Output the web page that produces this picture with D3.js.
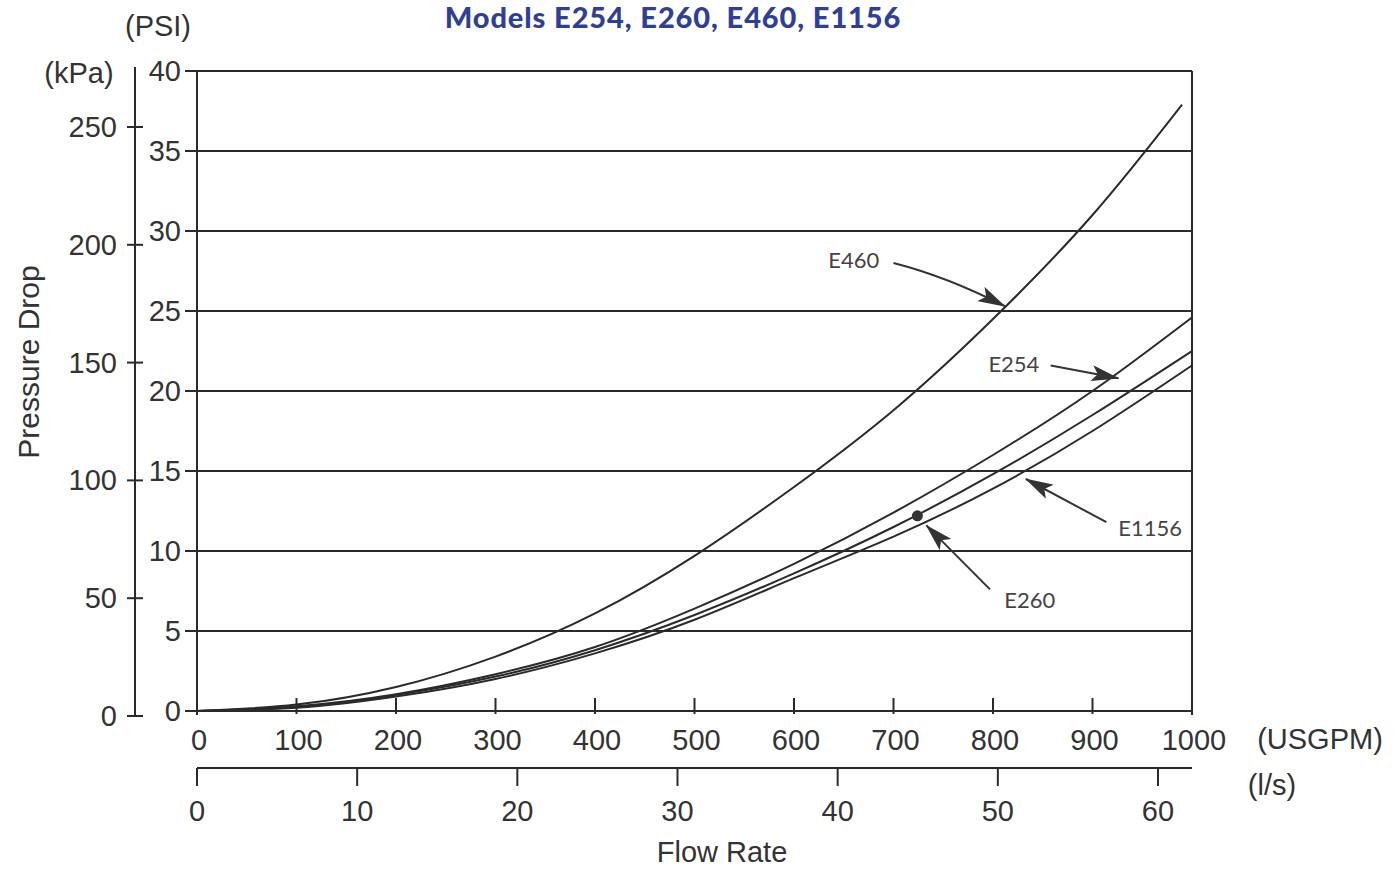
<!DOCTYPE html>
<html>
<head>
<meta charset="utf-8">
<script src="https://cdn.jsdelivr.net/npm/d3@7"></script>
<style>
  html, body { margin: 0; padding: 0; background: #fff; }
  svg text { font-family: 'Liberation Sans', Arial, sans-serif; fill: #333; }
  .title { font-family: Lato, 'Noto Sans', sans-serif; font-weight: 900; fill: #2f3f96; }
  .model { font-family: Lato, 'Noto Sans', sans-serif; fill: #444; }
</style>
</head>
<body>
<div id="chart"></div>
<script>
// flow in USGPM, pressure drop in PSI
const flow = [0, 100, 200, 300, 400, 500, 600, 700, 800, 900, 1000];
const e460 = [0, 0.4, 1.5, 3.4, 6.1, 9.7, 14.0, 18.8, 24.5, 31.0, 37.9];
const e254 = [0, 0.3, 1.05, 2.3, 4.0, 6.4, 9.2, 12.4, 16.0, 20.0, 24.6];
const e260 = [0, 0.25, 1.0, 2.15, 3.8, 6.0, 8.6, 11.5, 14.8, 18.5, 22.5];
const e1156 = [0, 0.2, 0.9, 2.0, 3.6, 5.7, 8.3, 10.9, 13.9, 17.5, 21.6];
// E460 stops short of the right edge
const e460End = 990;

const gpmTicks = [0, 100, 200, 300, 400, 500, 600, 700, 800, 900, 1000];
const lsTicks = [0, 10, 20, 30, 40, 50, 60];
const psiTicks = [0, 5, 10, 15, 20, 25, 30, 35, 40];
const kpaTicks = [0, 50, 100, 150, 200, 250];

// labels: [name, text gpm, text psi, arrow start gpm, psi, arrow tip gpm, psi]
const callouts = [
  ['E460', 660, 28.2, 700, 28.0, 812, 25.3],
  ['E254', 821, 21.7, 858, 21.6, 926, 20.8],
  ['E1156', 958, 11.45, 914, 11.8, 833, 14.5],
  ['E260', 837, 6.95, 797, 7.6, 733, 11.6]
];
const dot = [724, 12.2];

const width = 1394;
const height = 869;

const svg = d3.select('#chart')
  .append('svg')
  .attr('width', width)
  .attr('height', height);

const x = d3.scaleLinear().domain([0, 1000]).range([197, 1192]);
const y = d3.scaleLinear().domain([0, 40]).range([711, 71]);
const xLs = d3.scaleLinear().domain([0, 60]).range([197, 1158]);
const yKpa = d3.scaleLinear().domain([0, 250]).range([716, 127]);

const ink = '#2a2a2a';
const fontSize = 29;

svg.append('defs').append('marker')
  .attr('id', 'head')
  .attr('viewBox', '0 0 28 16')
  .attr('refX', 27)
  .attr('refY', 8)
  .attr('markerWidth', 28)
  .attr('markerHeight', 16)
  .attr('markerUnits', 'userSpaceOnUse')
  .attr('orient', 'auto')
  .append('path')
  .attr('d', 'M0,0 L28,8 L0,16 L6,8 Z')
  .attr('fill', '#333');

// title
svg.append('text')
  .attr('class', 'title')
  .attr('x', 673)
  .attr('y', 28)
  .attr('text-anchor', 'middle')
  .style('font-size', '29px')
  .style('letter-spacing', '0.9px')
  .text('Models E254, E260, E460, E1156');

// psi grid lines + ticks
const grid = svg.append('g');
grid.selectAll('line')
  .data(psiTicks)
  .enter()
  .append('line')
  .attr('x1', 185)
  .attr('x2', x(1000))
  .attr('y1', d => y(d))
  .attr('y2', d => y(d))
  .attr('stroke', ink)
  .attr('stroke-width', 2);

grid.selectAll('text')
  .data(psiTicks)
  .enter()
  .append('text')
  .attr('x', 181)
  .attr('y', d => y(d) + 10)
  .attr('text-anchor', 'end')
  .style('font-size', fontSize + 'px')
  .text(d => d);

// plot frame left and right
svg.append('line')
  .attr('x1', x(0)).attr('x2', x(0))
  .attr('y1', y(40)).attr('y2', y(0) + 4)
  .attr('stroke', ink).attr('stroke-width', 2);
svg.append('line')
  .attr('x1', x(1000)).attr('x2', x(1000))
  .attr('y1', y(40)).attr('y2', y(0) + 4)
  .attr('stroke', ink).attr('stroke-width', 2);

// kPa axis
const kpa = svg.append('g');
kpa.append('line')
  .attr('x1', 135).attr('x2', 135)
  .attr('y1', 67).attr('y2', yKpa(0))
  .attr('stroke', ink).attr('stroke-width', 2);
kpa.selectAll('.tick')
  .data(kpaTicks)
  .enter()
  .append('line')
  .attr('x1', 127).attr('x2', 143)
  .attr('y1', d => yKpa(d))
  .attr('y2', d => yKpa(d))
  .attr('stroke', ink).attr('stroke-width', 2);
kpa.selectAll('text')
  .data(kpaTicks)
  .enter()
  .append('text')
  .attr('x', 117)
  .attr('y', d => yKpa(d) + 10)
  .attr('text-anchor', 'end')
  .style('font-size', fontSize + 'px')
  .text(d => d);

// USGPM ticks, inside the plot
const gpm = svg.append('g');
gpm.selectAll('line')
  .data(gpmTicks.slice(1))
  .enter()
  .append('line')
  .attr('x1', d => x(d)).attr('x2', d => x(d))
  .attr('y1', y(0) - 13).attr('y2', y(0) + 3)
  .attr('stroke', ink).attr('stroke-width', 2);
gpm.selectAll('text')
  .data(gpmTicks)
  .enter()
  .append('text')
  .attr('x', d => x(d) + 2)
  .attr('y', 750)
  .attr('text-anchor', 'middle')
  .style('font-size', fontSize + 'px')
  .text(d => d);

// l/s axis
const ls = svg.append('g');
ls.append('line')
  .attr('x1', x(0)).attr('x2', x(1000))
  .attr('y1', 768).attr('y2', 768)
  .attr('stroke', ink).attr('stroke-width', 2);
ls.selectAll('.tick')
  .data(lsTicks)
  .enter()
  .append('line')
  .attr('x1', d => xLs(d)).attr('x2', d => xLs(d))
  .attr('y1', 768).attr('y2', 786)
  .attr('stroke', ink).attr('stroke-width', 2);
ls.selectAll('text')
  .data(lsTicks)
  .enter()
  .append('text')
  .attr('x', d => xLs(d))
  .attr('y', 821)
  .attr('text-anchor', 'middle')
  .style('font-size', fontSize + 'px')
  .text(d => d);

// unit and axis titles
const label = (t, lx, ly, size, anchor) => svg.append('text')
  .attr('x', lx)
  .attr('y', ly)
  .attr('text-anchor', anchor || 'middle')
  .style('font-size', size + 'px')
  .text(t);

label('(PSI)', 158, 36, fontSize);
label('(kPa)', 79, 83, fontSize);
label('(USGPM)', 1320, 749, fontSize);
label('(l/s)', 1272, 795, fontSize);
label('Flow Rate', 722, 862, 29);
label('Pressure Drop', 0, 0, 30)
  .attr('transform', 'translate(39,362) rotate(-90)');

// curves
const line = d3.line()
  .x(d => x(d[0]))
  .y(d => y(d[1]))
  .curve(d3.curveNatural);

const series = [e460, e254, e260, e1156];
const curves = svg.append('g');
series.forEach(s => {
  let pts = flow.map((f, i) => [f, s[i]]);
  if (s === e460) {
    pts = pts.map(p => (p[0] === 1000 ? [e460End, p[1]] : p));
  }
  curves.append('path')
    .attr('d', line(pts))
    .attr('fill', 'none')
    .attr('stroke', ink)
    .attr('stroke-width', 2);
});

// rated point on E260
svg.append('circle')
  .attr('cx', x(dot[0]))
  .attr('cy', y(dot[1]))
  .attr('r', 5.5)
  .attr('fill', '#333');

// model callouts
const notes = svg.append('g');
callouts.forEach(c => {
  notes.append('text')
    .attr('class', 'model')
    .attr('x', x(c[1]))
    .attr('y', y(c[2]) + 8)
    .attr('text-anchor', 'middle')
    .style('font-size', '22px')
    .text(c[0]);

  const x0 = x(c[3]);
  const y0 = y(c[4]);
  const x1 = x(c[5]);
  const y1 = y(c[6]);
  // slight bow on the E460 leader
  const bend = c[0] === 'E460' ? 8 : 0;
  const mx = (x0 + x1) / 2 - bend * 0.3;
  const my = (y0 + y1) / 2 - bend;
  notes.append('path')
    .attr('d', `M${x0},${y0} Q${mx},${my} ${x1},${y1}`)
    .attr('fill', 'none')
    .attr('stroke', '#333')
    .attr('stroke-width', 2)
    .attr('marker-end', 'url(#head)');
});
</script>
</body>
</html>
